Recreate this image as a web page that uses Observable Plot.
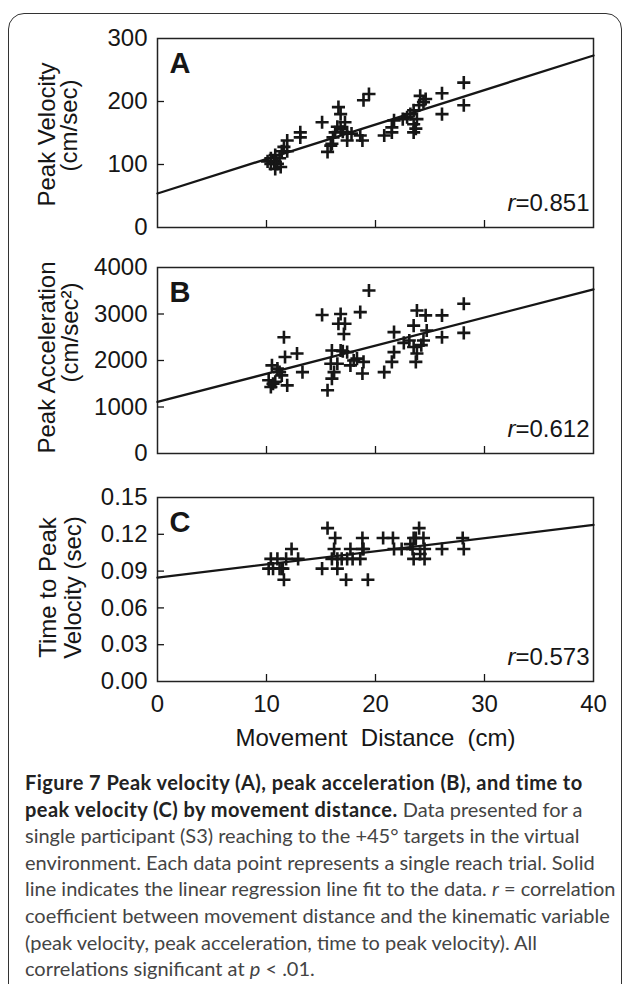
<!DOCTYPE html>
<html>
<head>
<meta charset="utf-8">
<script src="https://cdn.jsdelivr.net/npm/d3@7"></script>
<script src="https://cdn.jsdelivr.net/npm/@observablehq/plot@0.6"></script>
<style>
html, body { margin: 0; padding: 0; background: #fff; }
#fig { position: relative; width: 629px; height: 984px; overflow: hidden; font-family: "Liberation Sans", Arial, sans-serif; }
#border { position: absolute; left: 8px; top: 13px; width: 614px; height: 1010px; border: 1.5px solid #333; border-radius: 16px; box-sizing: border-box; }
.panel { position: absolute; left: 0; }
#caption { position: absolute; left: 25px; top: 769px; font-family: Lato, "Open Sans", sans-serif; font-size: 20px; line-height: 26.6px; color: #444; white-space: nowrap; }
#caption b { color: #222; letter-spacing: 0.45px; }
</style>
</head>
<body>
<div id="fig">
  <div id="border"></div>
  <div id="caption">
    <div><b>Figure 7 Peak velocity (A), peak acceleration (B), and time to</b></div>
    <div><b>peak velocity (C) by movement distance.</b> Data presented for a</div>
    <div>single participant (S3) reaching to the +45° targets in the virtual</div>
    <div>environment. Each data point represents a single reach trial. Solid</div>
    <div>line indicates the linear regression line fit to the data. <i>r</i> = correlation</div>
    <div>coefficient between movement distance and the kinematic variable</div>
    <div>(peak velocity, peak acceleration, time to peak velocity). All</div>
    <div>correlations significant at <i>p</i> &lt; .01.</div>
  </div>
</div>
<script>
// ---------- data ----------
const xDomain = [0, 40];
const xTicks = [0, 10, 20, 30, 40];
const xTitle = "Movement\u00a0 Distance\u00a0 (cm)";

// Panel A: peak velocity (cm/sec)
const distA = [28.1, 28.1, 26.1, 26.1, 24.6, 24.1, 24.4, 24.0, 23.5, 23.2, 22.9, 23.8, 23.5, 23.7, 23.5, 22.5, 21.7, 21.5, 21.5, 20.8,
  19.4, 18.9, 18.8, 18.6, 17.4, 17.4, 17.2, 16.6, 16.8, 16.8, 16.3, 16.1, 15.9, 15.6, 15.1, 13.1, 13.1, 11.9, 11.6, 11.4,
  11.9, 10.8, 10.4, 10.7, 10.1, 10.4, 11.0, 11.3, 10.8, 11.2, 17.0, 16.5, 17.8, 16.0];
const velA = [230, 194, 213, 180, 204, 209, 199, 194, 186, 180, 175, 172, 164, 157, 151, 172, 170, 159, 151, 146,
  212, 202, 138, 146, 138, 151, 167, 191, 180, 157, 151, 143, 130, 120, 167, 151, 143, 138, 128, 121,
  121, 115, 110, 105, 105, 101, 101, 96, 93, 110, 152, 160, 149, 133];
const yTicksA = [0, 100, 200, 300];
const fitA = [54, 5.475];          // intercept, slope
const rA = "r=0.851";

// Panel B: peak acceleration (cm/sec^2)
const distB = [19.4, 28.1, 28.1, 26.1, 26.1, 23.8, 24.6, 23.5, 24.7, 24.4, 23.1, 22.6, 23.5, 23.8, 23.7, 21.7, 21.7, 21.5, 20.8, 18.6,
  16.8, 15.1, 16.6, 17.2, 17.1, 18.9, 18.8, 18.3, 17.4, 16.8, 16.0, 16.5, 15.9, 16.2, 16.0, 15.6, 17.7, 11.6, 11.7, 12.8,
  13.3, 10.5, 11.0, 11.4, 10.8, 10.2, 10.4, 11.9, 11.2, 10.6, 18.0, 17.0, 24.2];
const accB = [3505, 3220, 2595, 2970, 2500, 3075, 2970, 2750, 2645, 2430, 2430, 2380, 2290, 2150, 1970, 2610, 2180, 1970, 1750, 3040,
  3000, 2980, 2790, 2790, 2570, 1970, 1720, 2040, 2180, 2215, 2215, 1930, 1930, 1750, 1610, 1360, 1895, 2500, 2075, 2150,
  1750, 1895, 1825, 1680, 1540, 1575, 1430, 1465, 1750, 1500, 2000, 2200, 2330];
const yTicksB = [0, 1000, 2000, 3000, 4000];
const fitB = [1110, 60.5];
const rB = "r=0.612";

// Panel C: time to peak velocity (sec)
const distC = [15.6, 24.0, 16.3, 18.8, 20.7, 21.6, 23.5, 24.4, 28.0, 23.4, 28.1, 26.1, 21.7, 22.4, 24.5, 23.5, 24.5, 23.7, 18.8, 17.7,
  17.4, 18.6, 16.9, 16.2, 16.0, 16.5, 15.1, 16.5, 17.3, 19.3, 12.3, 12.9, 10.4, 10.6, 11.0, 11.4, 11.6, 11.2, 11.8, 10.2,
  11.5, 17.9, 18.9, 23.2, 24.1];
const ttpC = [0.125, 0.125, 0.117, 0.117, 0.117, 0.117, 0.117, 0.117, 0.117, 0.108, 0.108, 0.108, 0.108, 0.108, 0.108, 0.100, 0.100, 0.117, 0.108, 0.108,
  0.100, 0.100, 0.100, 0.108, 0.100, 0.100, 0.092, 0.092, 0.083, 0.083, 0.108, 0.100, 0.100, 0.092, 0.100, 0.092, 0.083, 0.092, 0.100, 0.092,
  0.092, 0.100, 0.108, 0.112, 0.104];
const yTicksC = [0, 0.03, 0.06, 0.09, 0.12, 0.15];
const fitC = [0.0847, 0.0010725];
const rC = "r=0.573";

// ---------- drawing ----------
const W = 629, ML = 157, MR = 36, MT = 15;
const ink = "#161616";
const font = "'Liberation Sans', Arial, Helvetica, sans-serif";

function panel(o) {
  const MB = o.showX ? 80 : 15;
  const frameW = W - ML - MR;
  const pts = o.dist.map((d, i) => ({x: d, y: o.vals[i]}));
  const fitLine = xDomain.map(x => ({x, y: o.fit[0] + o.fit[1] * x}));
  const innerY = o.yTicks.slice(1, -1);
  const innerX = xTicks.slice(1, -1);
  const fcPage = o.frameTop + o.frameH / 2;   // page y of the frame centre
  const marks = [
    Plot.frame({stroke: "#222", strokeWidth: 1.5}),
    Plot.tickY(innerY, {y: d => d, insetRight: frameW - 7, stroke: ink, strokeWidth: 1.3}),
    Plot.tickX(innerX, {x: d => d, insetTop: o.frameH - 7, stroke: ink, strokeWidth: 1.3}),
    Plot.axisY({ticks: o.yTicks, tickSize: 0, tickPadding: 10, fontSize: 24, tickFormat: o.yFmt, label: null, fill: ink}),
    Plot.line(fitLine, {x: "x", y: "y", stroke: ink, strokeWidth: 2.3}),
    Plot.dot(pts, {x: "x", y: "y", symbol: "plus", r: 4.3, stroke: ink, strokeWidth: 2.6}),
    Plot.text([o.letter], {text: d => d, frameAnchor: "top-left", dx: 12, dy: 14, fontSize: 29, fontWeight: "bold", textAnchor: "start", lineAnchor: "top", fill: ink}),
    Plot.text([o.r], {text: d => d, frameAnchor: "bottom-right", dx: -4, dy: -17, fontSize: 24, textAnchor: "end", lineAnchor: "bottom", fill: ink}),
    Plot.text([o.lab1], {text: d => d, frameAnchor: "left", rotate: -90, dx: o.l1[0] - ML, dy: o.l1[1] - fcPage, fontSize: 24, textAnchor: "middle", lineAnchor: "middle", fill: ink}),
    Plot.text([o.lab2], {text: d => d, frameAnchor: "left", rotate: -90, dx: o.l2[0] - ML, dy: o.l2[1] - fcPage, fontSize: 24, textAnchor: "middle", lineAnchor: "middle", fill: ink})
  ];
  if (o.showX) {
    marks.push(Plot.axisX({ticks: xTicks, tickSize: 0, tickPadding: 13, fontSize: 24, label: null, fill: ink}));
    marks.push(Plot.text([xTitle], {text: d => d, frameAnchor: "bottom", dy: 57, fontSize: 24, textAnchor: "middle", lineAnchor: "middle", fill: ink}));
  }
  const svg = Plot.plot({
    width: W,
    height: o.frameH + MT + MB,
    marginLeft: ML, marginRight: MR, marginTop: MT, marginBottom: MB,
    x: {domain: xDomain, axis: null},
    y: {domain: [o.yTicks[0], o.yTicks[o.yTicks.length - 1]], axis: null},
    style: {fontFamily: font, color: ink, background: "transparent", overflow: "visible"},
    marks
  });
  // italic "r" in the correlation label
  svg.querySelectorAll("text").forEach(t => {
    if (t.textContent.startsWith("r=")) {
      const rest = t.textContent.slice(1);
      t.textContent = "";
      const ts = document.createElementNS("http://www.w3.org/2000/svg", "tspan");
      ts.setAttribute("font-style", "italic");
      ts.textContent = "r";
      t.appendChild(ts);
      t.appendChild(document.createTextNode(rest));
    }
  });
  const div = document.createElement("div");
  div.className = "panel";
  div.style.top = (o.frameTop - MT) + "px";
  div.appendChild(svg);
  document.getElementById("fig").appendChild(div);
}

panel({dist: distA, vals: velA, yTicks: yTicksA, yFmt: d3.format("d"), fit: fitA, letter: "A", r: rA,
  lab1: "Peak Velocity", lab2: "(cm/sec)", l1: [47, 134], l2: [69, 125], frameTop: 38, frameH: 189});
panel({dist: distB, vals: accB, yTicks: yTicksB, yFmt: d3.format("d"), fit: fitB, letter: "B", r: rB,
  lab1: "Peak Acceleration", lab2: "(cm/sec\u00b2)", l1: [47, 357], l2: [70, 332], frameTop: 267, frameH: 186});
panel({dist: distC, vals: ttpC, yTicks: yTicksC, yFmt: d3.format(".2f"), fit: fitC, letter: "C", r: rC,
  lab1: "Time to Peak", lab2: "Velocity (sec)", l1: [48, 587], l2: [73, 587], frameTop: 497, frameH: 184, showX: true});
</script>
</body>
</html>
